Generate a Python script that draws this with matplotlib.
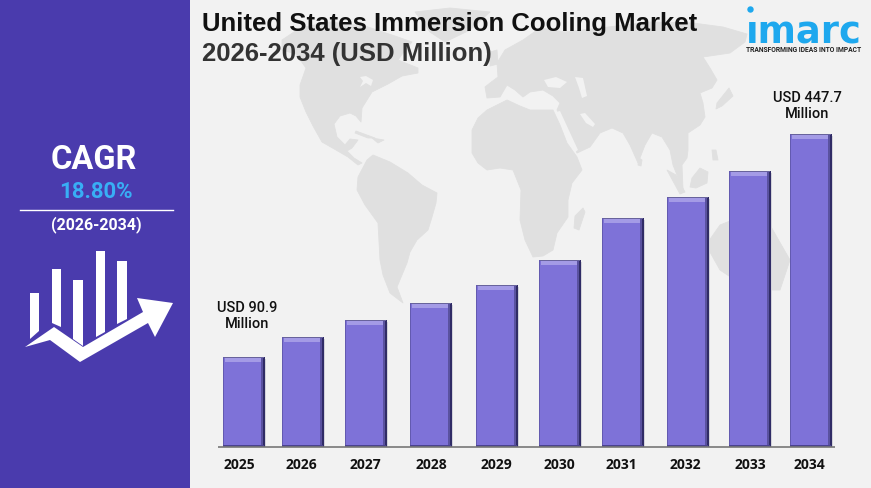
import matplotlib
matplotlib.use("Agg")
import matplotlib.pyplot as plt
from matplotlib.patches import Polygon, Rectangle, Circle

# ---- data ----
years = ["2025", "2026", "2027", "2028", "2029", "2030", "2031", "2032", "2033", "2034"]
bar_heights = [90, 110, 127, 144, 162, 187, 229, 250, 276, 313]
first_label = "USD 90.9\nMillion"
last_label = "USD 447.7\nMillion"
title_line1 = "United States Immersion Cooling Market"
title_line2 = "2026-2034 (USD Million)"
cagr_name = "CAGR"
cagr_value = "18.80%"
cagr_period = "(2026-2034)"

# ---- layout tweaks (pixels) ----
W, H = 871, 488
BASE_Y = 447
STEP = 63.0
C0 = 243.5
bar_nudge_px = [0, -4, -4, -2, 1, 1, 1, 3, 2, 0]
label_nudge_px = [-4, -5, -4, -1, 1, 1, 0, 1, 3, -1]

BG = "#f2f2f2"
PANEL = "#4a3bad"
LAND = "#e0e0e0"
BODY = "#7e72d8"

fig = plt.figure(figsize=(W / 100, H / 100), dpi=100, facecolor=BG)

# ---- decoration layer in pixel coordinates ----
deco = fig.add_axes([0, 0, 1, 1], zorder=1)
deco.set_xlim(0, W)
deco.set_ylim(H, 0)
deco.axis("off")

land = [
    # North + Central America
    [(282, 40), (300, 28), (330, 22), (365, 26), (395, 36), (412, 42), (405, 50), (398, 60), (418, 68), (418, 73),
     (402, 76), (388, 84), (372, 92), (362, 108), (361, 122), (356, 116), (350, 113), (340, 116), (334, 124),
     (337, 137), (345, 145), (350, 139), (358, 140), (352, 148), (347, 151), (354, 158), (362, 163), (358, 165),
     (348, 157), (336, 150), (322, 142), (313, 126), (306, 112), (300, 97), (300, 85), (306, 68), (296, 54), (282, 50)],
    # Greenland
    [(415, 12), (450, 8), (490, 12), (470, 30), (445, 42), (430, 32)],
    # South America
    [(373, 155), (390, 162), (408, 173), (422, 185), (437, 193), (436, 203), (432, 217), (428, 230), (417, 240),
     (410, 252), (407, 263), (397, 287), (403, 303), (390, 293), (383, 275), (380, 260), (378, 223), (365, 205), (357, 190),
     (358, 177), (367, 160)],
    # Africa
    [(472, 130), (478, 118), (487, 110), (507, 100), (520, 106), (530, 110), (553, 110), (560, 125), (567, 143),
     (577, 157), (582, 170), (572, 183), (568, 200), (568, 217), (557, 233), (553, 250), (543, 256), (533, 257),
     (525, 240), (520, 220), (521, 190), (513, 170), (500, 168), (487, 170), (478, 163), (472, 153)],
    # Eurasia
    [(485, 87), (487, 98), (500, 97), (507, 85), (515, 90), (523, 97), (530, 92), (543, 90), (553, 96), (560, 103),
     (557, 110), (566, 128), (577, 153), (590, 147), (600, 133), (612, 128), (623, 133), (630, 145), (638, 163),
     (645, 145), (652, 133), (662, 137), (670, 150), (673, 165), (683, 190), (682, 165), (687, 158), (688, 150), (688, 133),
     (700, 125), (705, 117), (703, 103), (700, 93), (712, 88), (717, 80), (710, 68), (703, 57), (730, 53), (745, 42),
     (747, 34), (723, 27), (693, 23), (650, 22), (600, 28), (565, 32), (540, 28), (523, 40), (505, 50), (497, 63),
     (498, 77), (490, 83)],
    # UK, Madagascar, Japan, Sumatra, Borneo, Sri Lanka, Philippines, Australia, Caribbean
    [(490, 52), (497, 50), (498, 64), (490, 66)],
    [(583, 208), (585, 212), (579, 230), (574, 228), (575, 216)],
    [(729, 88), (733, 96), (722, 106), (716, 109), (717, 103)],
    [(667, 170), (676, 175), (685, 192), (680, 194)],
    [(692, 178), (700, 168), (708, 172), (707, 183), (696, 188), (690, 187)],
    [(639, 158), (642, 160), (641, 166), (638, 165)],
    [(712, 150), (716, 150), (718, 160), (713, 160)],
    [(706, 245), (720, 225), (745, 215), (770, 225), (790, 260), (780, 290), (750, 290), (720, 270)],
    [(356, 131), (375, 138), (368, 138), (355, 133)],
    [(372, 138), (384, 140), (378, 143)],
]
for pts in land:
    deco.add_patch(Polygon(pts, closed=True, fc=LAND, ec=LAND, lw=0.6, joinstyle="round", zorder=1))
# inland water: Great Lakes, Black Sea, Caspian, Persian Gulf, Red Sea
for pts in [[(360, 77), (366, 76), (373, 80), (371, 86), (366, 83), (360, 87), (363, 81)],
            [(544, 80), (556, 77), (567, 82), (560, 88), (548, 87)],
            [(575, 77), (583, 78), (587, 96), (582, 98), (579, 88)],
            [(580, 114), (585, 113), (595, 124), (593, 127), (586, 123)],
            [(556, 112), (560, 111), (578, 150), (575, 152)]]:
    deco.add_patch(Polygon(pts, closed=True, fc=BG, ec="none", zorder=2))

# side panel
deco.add_patch(Rectangle((0, 0), 190, H, fc=PANEL, ec="none", zorder=3))
FONT = "Roboto"
deco.text(94, 160, cagr_name, color="white", fontsize=23.5, fontweight="bold", family=FONT, ha="center", va="center", zorder=5)
deco.text(95.5, 192, cagr_value, color="#38aef5", fontsize=16, fontweight="bold", family=FONT, ha="center", va="center", zorder=5)
deco.plot([20, 173], [210, 210], color="white", lw=1.0, zorder=5)
deco.text(96, 224.5, cagr_period, color="white", fontsize=11.5, fontweight="bold", family=FONT, ha="center", va="center", zorder=5)

# trend icon
for pts in [[(30, 293), (39, 293), (39, 331), (30, 339)],
            [(52, 269), (61, 269), (61, 327), (52, 323)],
            [(73, 280), (83, 280), (83, 346), (73, 339)],
            [(96, 251), (105, 251), (105, 332), (96, 337)],
            [(117, 261), (127, 261), (127, 319), (117, 324)],
            [(25, 347), (54, 327), (83, 347), (143, 312), (137, 298), (173, 303), (155, 337), (148, 323),
             (80, 362), (50, 340)]]:
    deco.add_patch(Polygon(pts, closed=True, fc="white", ec="none", zorder=5))

# title
deco.text(202, 23.5, title_line1, color="#111111", fontsize=18.5, fontweight="bold", family="Liberation Sans", va="center", zorder=6)
deco.text(202, 54.5, title_line2, color="#333333", fontsize=18.5, fontweight="bold", family="Liberation Sans", va="center", zorder=6)

# logo
LOGO = "#1ea8ee"
deco.text(803.5, 43, "\u0131marc", color=LOGO, fontsize=26.5, fontweight="bold", family="DejaVu Sans", ha="center", va="baseline", zorder=6)
deco.add_patch(Circle((750.5, 9.5), 3.2, fc=LOGO, ec="none", zorder=6))
deco.text(803.5, 50.5, "TRANSFORMING IDEAS INTO IMPACT", color="#222222", fontsize=4.9, fontweight="bold", family=FONT,
          ha="center", va="center", zorder=6)

# ---- bar chart ----
ax = fig.add_axes([190 / W, (H - BASE_Y) / H, (W - 190) / W, BASE_Y / H], zorder=2)
ax.patch.set_alpha(0)
ax.set_xlim((190 - C0) / STEP, (W - C0) / STEP)
ax.set_ylim(0, BASE_Y)
for s in ax.spines.values():
    s.set_visible(False)
ax.set_yticks([])

positions = [i + n / STEP for i, n in enumerate(bar_nudge_px)]
bw = 41 / STEP
px = 1 / STEP
bars = ax.bar(positions, bar_heights, width=bw, color=BODY, zorder=3)
for b in bars:
    x, w, h = b.get_x(), b.get_width(), b.get_height()
    ax.add_patch(Rectangle((x + w, 0), 2 * px, h - 2, fc="#d3d3da", ec="none", zorder=2))        # soft shadow
    ax.add_patch(Rectangle((x + w - 3 * px, 0), 1.5 * px, h, fc="#5a52a0", ec="none", zorder=4)) # right bevel
    ax.add_patch(Rectangle((x + w - 1.5 * px, 0), 2 * px, h, fc="#302c66", ec="none", zorder=4)) # right edge
    ax.add_patch(Rectangle((x, h - 1), w, 1, fc="#68639c", ec="none", zorder=4))                 # top edge
    ax.add_patch(Rectangle((x + 2 * px, h - 4.5), w - 5 * px, 3.5, fc="#a49be6", ec="none", zorder=4))  # top light
    ax.add_patch(Rectangle((x, 0), 1 * px, h, fc="#635ab0", ec="none", zorder=4))                # left edge
    ax.add_patch(Rectangle((x, 0), w, 2, fc="#4a4290", ec="none", zorder=4))                     # bottom edge

ax.hlines(0, (218 - C0) / STEP, (835 - C0) / STEP, color="#777777", lw=1.2, zorder=5, clip_on=False)

ax.set_xticks([i + n / STEP for i, n in enumerate(label_nudge_px)])
ax.set_xticklabels(years, fontsize=10, fontweight="bold", family="Open Sans", color="#111111")
ax.tick_params(axis="x", length=0, pad=8)

ax.annotate(first_label, xy=(positions[0], bar_heights[0]), xytext=(3.5 * 0.72, 26 * 0.72), textcoords="offset points",
            ha="center", va="bottom", fontsize=10.5, fontweight="medium", family=FONT, color="#111111", linespacing=1.2)
ax.annotate(last_label, xy=(positions[-1], bar_heights[-1]), xytext=(-3.5 * 0.72, 13 * 0.72), textcoords="offset points",
            ha="center", va="bottom", fontsize=10.5, fontweight="medium", family=FONT, color="#111111", linespacing=1.2)

fig.savefig("out.png", dpi=100, facecolor=BG)
